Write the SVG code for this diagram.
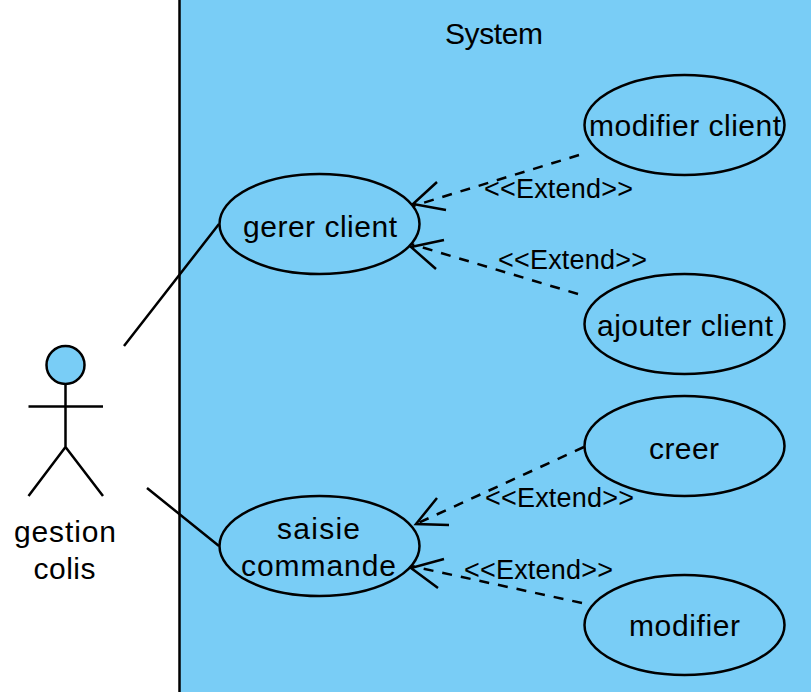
<svg xmlns="http://www.w3.org/2000/svg" width="811" height="692" viewBox="0 0 811 692">
<style>
text{font-family:"Liberation Sans",Arial,sans-serif;font-size:30px;fill:#000;text-anchor:middle}
.uc{fill:#79cdf6;stroke:#000;stroke-width:2.500}
.ln{fill:none;stroke:#000;stroke-width:2.500}
.dash{fill:none;stroke:#000;stroke-width:2.500;stroke-dasharray:10 9}
.lab{font-size:27px}
</style>
<rect width="811" height="692" fill="#fff"/>
<g id="system"><rect x="179.500" y="-3" width="640" height="700" fill="#79cdf6" stroke="#000" stroke-width="2.500"/><text x="494" y="44" textLength="98">System</text></g>
<g id="connectors">
<path class="ln" d="M124 346L219 224M147 488L219 546"/>
<path class="dash" d="M579 155L413 206"/><path class="ln" d="M437 182L413 204L446 210"/>
<path class="dash" d="M578 294L411 244"/><path class="ln" d="M444 240L411 247L436 269"/>
<path class="dash" d="M584 447L416 524"/><path class="ln" d="M437 498L416 524L449 525"/>
<path class="dash" d="M582 603L411 566"/><path class="ln" d="M444 559L411 568L438 588"/>
<text class="lab" x="558.500" y="198" textLength="149">&lt;&lt;Extend&gt;&gt;</text>
<text class="lab" x="572.500" y="269" textLength="149">&lt;&lt;Extend&gt;&gt;</text>
<text class="lab" x="559.500" y="507" textLength="149">&lt;&lt;Extend&gt;&gt;</text>
<text class="lab" x="538.500" y="579" textLength="149">&lt;&lt;Extend&gt;&gt;</text>
</g>
<g id="actor">
<circle class="uc" cx="65.500" cy="365" r="19"/>
<path class="ln" d="M65.500 384V447M28.500 406.500H103M65.500 447L28.500 496M65.500 447L103 496"/>
<text x="65" y="542" textLength="102">gestion</text><text x="64.500" y="579" textLength="62">colis</text>
</g>
<g id="gerer-client"><ellipse class="uc" cx="319.500" cy="224" rx="100" ry="50"/><text x="320" y="237" textLength="154">gerer client</text></g>
<g id="saisie-commande"><ellipse class="uc" cx="319.500" cy="546" rx="100" ry="50"/><text x="318.500" y="539" textLength="83">saisie</text><text x="318.500" y="576" textLength="155">commande</text></g>
<g id="modifier-client"><ellipse class="uc" cx="684.500" cy="125" rx="100" ry="50"/><text x="685" y="136" textLength="192">modifier client</text></g>
<g id="ajouter-client"><ellipse class="uc" cx="684.500" cy="324" rx="100" ry="50"/><text x="685" y="336" textLength="176">ajouter client</text></g>
<g id="creer"><ellipse class="uc" cx="684.500" cy="446" rx="100" ry="50"/><text x="684" y="459" textLength="70">creer</text></g>
<g id="modifier"><ellipse class="uc" cx="684.500" cy="625" rx="100" ry="50"/><text x="684.500" y="636" textLength="111">modifier</text></g>
</svg>
